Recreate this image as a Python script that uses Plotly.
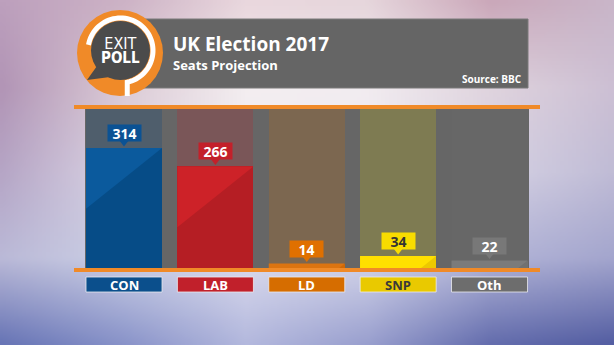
import base64, struct, zlib
import numpy as np
import plotly.graph_objects as go

# ---------------- data ----------------
parties = ["CON", "LAB", "LD", "SNP", "Oth"]
seats = [314, 266, 14, 34, 22]
title = "UK Election 2017"
subtitle = "Seats Projection"
source = "Source: BBC"
YMAX = 420

# ---------------- styles ----------------
bar_dark = ["#064c87", "#b51e24", "#cf6806", "#ecc900", "#717171"]
bar_light = ["#0b5a9d", "#cd2228", "#dc7410", "#ffe000", "#7b7b7b"]
track_col = ["#4f5e6c", "#7a5658", "#7c6750", "#7e7b52", "#676767"]
box_col = ["#0b5294", "#c3202a", "#e07000", "#f8dc00", "#787878"]
box_txt = ["white", "white", "white", "#333333", "white"]
cat_col = ["#0b4f8c", "#c1202b", "#d66d00", "#e9c900", "#6d6d6d"]
cat_txt = ["white", "white", "white", "#3a3a3a", "white"]
ORANGE = "#f08a28"
FONT = "Open Sans"
LOGOFONT = "Liberation Sans Narrow, DejaVu Sans Condensed, Arial Narrow"

W, H = 614, 345
ML, MR, MT, MB = 85, 85, 107, 76
PW, PH = W - ML - MR, H - MT - MB
XR = [-0.427, 4.432]
BW = 0.832
pxu = PW / (XR[1] - XR[0])
pyu = PH / YMAX


def fx(px):
    return (px - ML) / PW


def fy(py):
    return (H - MB - py) / PH


# ---------------- background image ----------------
def hexrgb(h):
    h = h.lstrip("#")
    return [int(h[i:i + 2], 16) for i in (0, 2, 4)]


grid = np.array([
    [hexrgb(c) for c in ["#bda0bd", "#cdb3c6", "#ead8de", "#e6d6dc", "#cba8ba", "#c9b6c9"]],
    [hexrgb(c) for c in ["#b295b6", "#dccbd6", "#f4eef0", "#f2ecf0", "#e0d4de", "#cdc0d4"]],
    [hexrgb(c) for c in ["#b6a6c6", "#dcd6e6", "#eeedf4", "#ecebf3", "#d6d2e4", "#c0bcd6"]],
    [hexrgb(c) for c in ["#bbbad8", "#ccd0e6", "#dcdcee", "#d4d5ea", "#b3b5d8", "#a4a6ce"]],
    [hexrgb(c) for c in ["#6875b6", "#8a94ca", "#b4b9de", "#9aa0cf", "#656eae", "#555fa3"]],
], dtype=float)
IH, IW = 87, 154
ys = np.linspace(0, grid.shape[0] - 1, IH)
xs = np.linspace(0, grid.shape[1] - 1, IW)
tmp = np.stack([np.stack([np.interp(xs, np.arange(grid.shape[1]), grid[r, :, c])
                          for c in range(3)], -1) for r in range(grid.shape[0])])
img = np.stack([np.stack([np.interp(ys, np.arange(grid.shape[0]), tmp[:, j, c])
                          for c in range(3)], -1) for j in range(IW)], 1)
img = np.clip(img, 0, 255).astype(np.uint8)


def png_uri(a):
    h, w, _ = a.shape
    raw = b"".join(b"\x00" + a[r].tobytes() for r in range(h))

    def chunk(t, d):
        return struct.pack(">I", len(d)) + t + d + struct.pack(">I", zlib.crc32(t + d) & 0xffffffff)

    png = (b"\x89PNG\r\n\x1a\n" + chunk(b"IHDR", struct.pack(">IIBBBBB", w, h, 8, 2, 0, 0, 0))
           + chunk(b"IDAT", zlib.compress(raw, 9)) + chunk(b"IEND", b""))
    return "data:image/png;base64," + base64.b64encode(png).decode()


fig = go.Figure()
xi = list(range(len(parties)))

# tracks
fig.add_trace(go.Bar(x=xi, y=[YMAX] * len(parties), width=BW, marker=dict(color=track_col, line_width=0),
                     hoverinfo="skip", showlegend=False))
# bars
fig.add_trace(go.Bar(x=xi, y=seats, width=BW, marker=dict(color=bar_dark, line_width=0),
                     hoverinfo="skip", showlegend=False))

# diagonal highlight polygons
slope = 0.8
for i, v in enumerate(seats):
    xl, xr = i - BW / 2, i + BW / 2
    hpx = v * pyu
    bwpx = BW * pxu
    if hpx > bwpx * slope:
        px_ = [xl, xr, xl, xl]
        py_ = [v, v, v - bwpx * slope / pyu, v]
    else:
        xh = xr - (hpx / slope) / pxu
        px_ = [xl, xr, xh, xl, xl]
        py_ = [v, v, 0, 0, v]
    fig.add_trace(go.Scatter(x=px_, y=py_, mode="lines", fill="toself", fillcolor=bar_light[i],
                             line=dict(width=0, color=bar_light[i]), hoverinfo="skip", showlegend=False))

# pointers of value labels
fig.add_trace(go.Scatter(x=xi, y=[v + 5.5 / pyu for v in seats], mode="markers",
                         marker=dict(symbol="triangle-down", size=8, color=box_col, line_width=0),
                         hoverinfo="skip", showlegend=False))

shapes = []
# plot-area grey
shapes.append(dict(type="rect", xref="paper", yref="paper", x0=0, x1=1, y0=0, y1=1,
                   fillcolor="#666666", line_width=0, layer="below"))
# header
shapes.append(dict(type="rect", xref="paper", yref="paper", x0=fx(140), x1=fx(528), y0=fy(88), y1=fy(19),
                   fillcolor="#656565", line=dict(color="#7a7a7a", width=1), layer="above"))
# orange rules
for yc in (107, 270):
    shapes.append(dict(type="rect", xref="paper", yref="paper", x0=fx(74), x1=fx(540),
                       y0=fy(yc + 2), y1=fy(yc - 2), fillcolor=ORANGE, line_width=0, layer="above"))
# category label boxes
for i in xi:
    shapes.append(dict(type="rect", xref="x", yref="paper", x0=i - BW / 2, x1=i + BW / 2,
                       y0=fy(292), y1=fy(277), fillcolor=cat_col[i],
                       line=dict(color="rgba(235,235,240,0.8)", width=1), layer="above"))

# logo
cx, cy = 120, 53
shapes.append(dict(type="circle", xref="paper", yref="paper", x0=fx(cx - 43), x1=fx(cx + 43),
                   y0=fy(cy + 43), y1=fy(cy - 43), fillcolor=ORANGE, line_width=0, layer="above"))
dcx, dcy, dr = 120.5, 50.5, 29.5
shapes.append(dict(type="circle", xref="paper", yref="paper", x0=fx(dcx - dr), x1=fx(dcx + dr),
                   y0=fy(dcy + dr), y1=fy(dcy - dr), fillcolor="#4b4b4b", line_width=0, layer="above"))
# speech tail
tail = [(97, 66), (110, 77), (87, 80)]
shapes.append(dict(type="path", xref="paper", yref="paper",
                   path="M " + " L ".join(f"{fx(a):.5f},{fy(b):.5f}" for a, b in tail) + " Z",
                   fillcolor="#4b4b4b", line_width=0, layer="above"))
# white ring + stem
ang = np.radians(np.linspace(170, -78, 60))
pts = [(dcx + 32.5 * np.cos(t), dcy - 32.5 * np.sin(t)) for t in ang]
pts.append((pts[-1][0], 96))
shapes.append(dict(type="path", xref="paper", yref="paper",
                   path="M " + " L ".join(f"{fx(a):.5f},{fy(b):.5f}" for a, b in pts),
                   line=dict(color="white", width=5), layer="above"))

ann = []
# value labels
for i, v in enumerate(seats):
    ann.append(dict(x=i, y=v, xref="x", yref="y", yanchor="bottom", yshift=6, showarrow=False,
                    text=f"<b>{v}</b>", width=33, height=16, bgcolor=box_col[i], borderpad=0,
                    font=dict(family=FONT, size=14, color=box_txt[i])))
# category labels
for i, p in enumerate(parties):
    ann.append(dict(x=i, y=fy(284.5), xref="x", yref="paper", xanchor="center", yanchor="middle",
                    showarrow=False, text=f"<b>{p}</b>", font=dict(family=FONT, size=13, color=cat_txt[i])))
# header texts (title + subtitle in one block)
ann.append(dict(x=fx(171), y=fy(52.5), xref="paper", yref="paper", xanchor="left", yanchor="middle",
                align="left", showarrow=False,
                text=(f"<span style='font-size:19px'><b>{title}</b></span><br>"
                      f"<span style='font-size:13px'><b>{subtitle}</b></span>"),
                font=dict(family=FONT, size=14.6, color="white")))
ann.append(dict(x=fx(524), y=fy(79), xref="paper", yref="paper", xanchor="right", yanchor="middle",
                showarrow=False, text=f"<b>{source}</b>", font=dict(family=FONT, size=10, color="white")))
# logo text
ann.append(dict(x=fx(120.5), y=fy(50.5), xref="paper", yref="paper", xanchor="center", yanchor="middle",
                showarrow=False,
                text="<span style='font-size:16px'>EXIT</span><br><span style='font-size:15px'><b>POLL</b></span>",
                font=dict(family=LOGOFONT, size=10.5, color="white")))

fig.update_layout(
    width=W, height=H, margin=dict(l=ML, r=MR, t=MT, b=MB, pad=0),
    paper_bgcolor="#d8d0e0", plot_bgcolor="rgba(0,0,0,0)",
    barmode="overlay", bargap=0, showlegend=False,
    xaxis=dict(range=XR, visible=False, fixedrange=True),
    yaxis=dict(range=[0, YMAX], visible=False, fixedrange=True),
    shapes=shapes, annotations=ann,
    images=[dict(source=png_uri(img), xref="paper", yref="paper", x=fx(0), y=fy(0),
                 sizex=W / PW, sizey=H / PH, xanchor="left", yanchor="top",
                 sizing="stretch", layer="below")],
)
fig.write_html("out.html", config=dict(displayModeBar=False))
